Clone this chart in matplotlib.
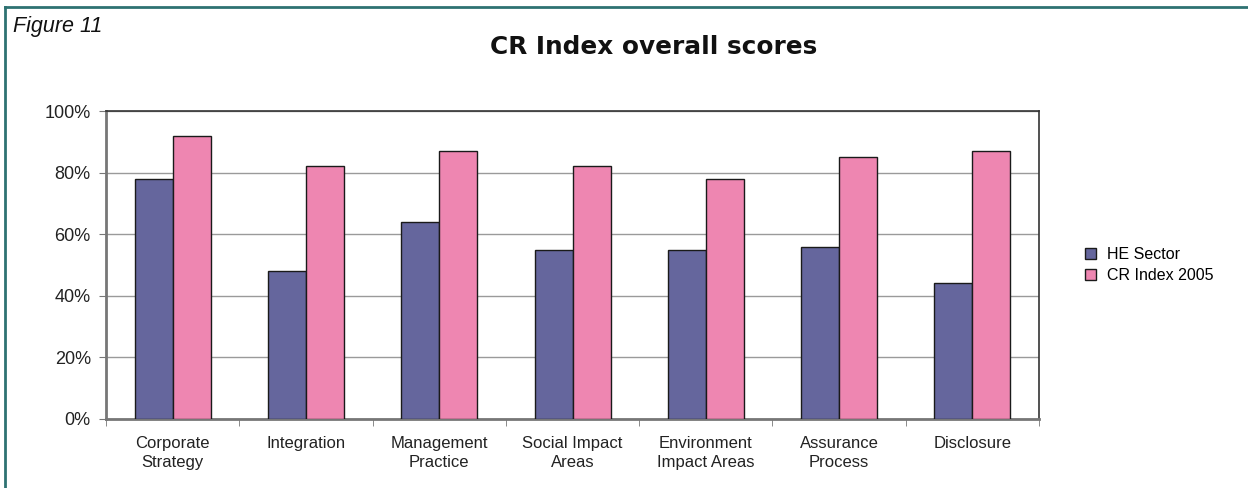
import matplotlib.pyplot as plt
import numpy as np
from matplotlib.lines import Line2D

# Categories and scores (fractions of 100%)
categories = ['Corporate\nStrategy', 'Integration', 'Management\nPractice', 'Social Impact\nAreas',
              'Environment\nImpact Areas', 'Assurance\nProcess', 'Disclosure']
he_sector = [0.78, 0.48, 0.64, 0.55, 0.55, 0.56, 0.44]
cr_index = [0.92, 0.82, 0.87, 0.82, 0.78, 0.85, 0.87]
series_names = ['HE Sector', 'CR Index 2005']
y_ticks = [0, 0.2, 0.4, 0.6, 0.8, 1.0]
y_labels = ['0%', '20%', '40%', '60%', '80%', '100%']

plt.rcParams['font.family'] = ['Liberation Sans', 'DejaVu Sans']

fig = plt.figure(figsize=(12.48, 4.88), dpi=100)
ax = fig.add_axes([0.085, 0.1414, 0.7475, 0.6311])

x = np.arange(len(categories))
w = 0.285
ax.bar(x - w / 2, he_sector, w, color='#65669d', edgecolor='#1a1a1a', linewidth=1.0,
       label=series_names[0], zorder=3)
ax.bar(x + w / 2, cr_index, w, color='#ee86b1', edgecolor='#1a1a1a', linewidth=1.0,
       label=series_names[1], zorder=3)

ax.set_xlim(-0.5, len(categories) - 0.5)
ax.set_ylim(0, 1.0)
ax.set_yticks(y_ticks)
ax.set_yticklabels(y_labels, fontsize=13, color='#222222')
ax.yaxis.grid(True, color='#9a9a9a', linewidth=1.0, zorder=0)

ax.set_xticks(x)
ax.set_xticklabels(categories, fontsize=12, color='#222222', linespacing=1.35)
ax.tick_params(axis='x', length=0, pad=12)
ax.set_xticks(np.arange(len(categories) + 1) - 0.5, minor=True)
ax.tick_params(axis='x', which='minor', length=5, color='#777777', direction='out')
ax.tick_params(axis='y', length=5, color='#777777', direction='out', pad=6)

for side in ['top', 'right']:
    ax.spines[side].set_color('#333333')
    ax.spines[side].set_linewidth(1.2)
for side in ['left', 'bottom']:
    ax.spines[side].set_color('#777777')
    ax.spines[side].set_linewidth(2.0)

ax.legend(loc='center left', bbox_to_anchor=(1.034, 0.5), frameon=False, fontsize=11.5,
          handlelength=0.7, handleheight=0.7, handletextpad=0.7, labelspacing=0.4)

fig.text(0.0105, 0.945, 'Figure 11', fontsize=15.5, style='italic', color='#111111', va='center')
fig.text(0.524, 0.903, 'CR Index overall scores', fontsize=17.8, fontweight='bold',
         family=['DejaVu Sans'], ha='center', va='center', color='#111111')

# teal border along top and left edge
fig.add_artist(Line2D([0.004, 1.0], [0.986, 0.986], color='#2e7272', linewidth=2.0,
                      transform=fig.transFigure))
fig.add_artist(Line2D([0.004, 0.004], [0.0, 0.986], color='#2e7272', linewidth=2.0,
                      transform=fig.transFigure))

fig.savefig('out.png', dpi=100)
